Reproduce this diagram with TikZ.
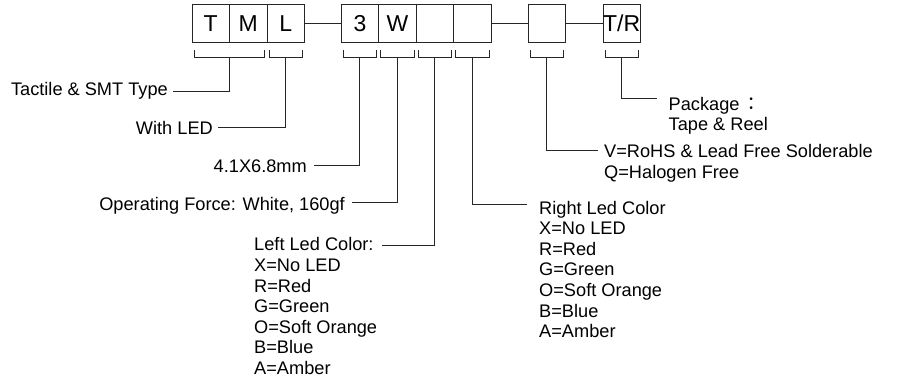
\documentclass[tikz,border=0pt]{standalone}
\usepackage{fontspec}
\setmainfont{Liberation Sans}
\newfontfamily\cjk{Noto Sans CJK TC}
\usetikzlibrary{calc}
\begin{document}
\begin{tikzpicture}[x=1pt,y=-1pt,
  cell/.style={draw=black!85, line width=0.9pt, minimum width=37.5pt, minimum height=37.6pt, inner sep=0pt, font=\fontsize{23}{25}\selectfont},
  lbl/.style={inner sep=0pt, font=\fontsize{18.2}{20.6}\selectfont, align=left},
  wire/.style={draw=black!85, line width=0.9pt}]
\useasboundingbox (0,0) rectangle (897,383);
% code boxes
\node[cell] (T)  at (210.7,23.5) {T};
\node[cell] (M)  at (248.2,23.5) {M};
\node[cell] (L)  at (285.7,23.5) {L};
\node[cell] (n3) at (359.9,23.5) {3};
\node[cell] (W)  at (397.4,23.5) {W};
\node[cell] (b1) at (434.9,23.5) {};
\node[cell] (b2) at (472.4,23.5) {};
\node[cell] (bx) at (546.9,23.5) {};
\node[cell] (TR) at (621.7,23.5) {T/R};
\draw[wire] (L.east) -- (n3.west);
\draw[wire] (b2.east) -- (bx.west);
\draw[wire] (bx.east) -- (TR.west);
% brackets
\foreach \a/\b/\n in {T/M/tm, L/L/l, n3/n3/three, W/W/w, b1/b1/bl, b2/b2/br, bx/bx/rh, TR/TR/tr} {
  \draw[wire] ($(\a.south west)+(2.5,7.5)$) |- ($(\b.south east)+(-2.5,14.5)$) -- ($(\b.south east)+(-2.5,7.5)$);
  \coordinate (s\n) at ($(\a.south west)!0.5!(\b.south east)+(0,14.5)$);
}
% labels
\node[lbl, anchor=base east] (ltm) at (168,95) {Tactile \& SMT Type};
\coordinate (etm) at (173,91.5);
\node[lbl, anchor=base east] (ll) at (213,134) {With LED};
\coordinate (el) at (218,127.3);
\node[lbl, anchor=base east] (lthree) at (307,172.3) {4.1X6.8mm};
\coordinate (ethree) at (314,165);
\node[lbl, anchor=base east] (lw) at (345,210) {Operating Force: White, 160gf};
\coordinate (ew) at (352,202.3);
\node[lbl, anchor=north west] (lbl) at (254,237.5) {Left Led Color:\\X=No LED\\R=Red\\G=Green\\O=Soft Orange\\B=Blue\\A=Amber};
\coordinate (ebl) at (381.7,245);
\node[lbl, anchor=north west] (lbr) at (539,200.8) {Right Led Color\\X=No LED\\R=Red\\G=Green\\O=Soft Orange\\B=Blue\\A=Amber};
\coordinate (ebr) at (526.7,204.3);
\node[lbl, anchor=north west] (lrh) at (604,144.5) {V=RoHS \& Lead Free Solderable\\Q=Halogen Free};
\coordinate (erh) at (598,150);
\node[lbl, anchor=north west] (ltr) at (668.5,96.8) {Package\,{\cjk ：}\\Tape \& Reel};
\coordinate (etr) at (656.7,98.3);
% leader lines
\foreach \n in {tm,l,three,w} \draw[wire] (s\n) |- (e\n);
\foreach \n in {bl,br,rh,tr} \draw[wire] (s\n) |- (e\n);
\end{tikzpicture}
\end{document}
